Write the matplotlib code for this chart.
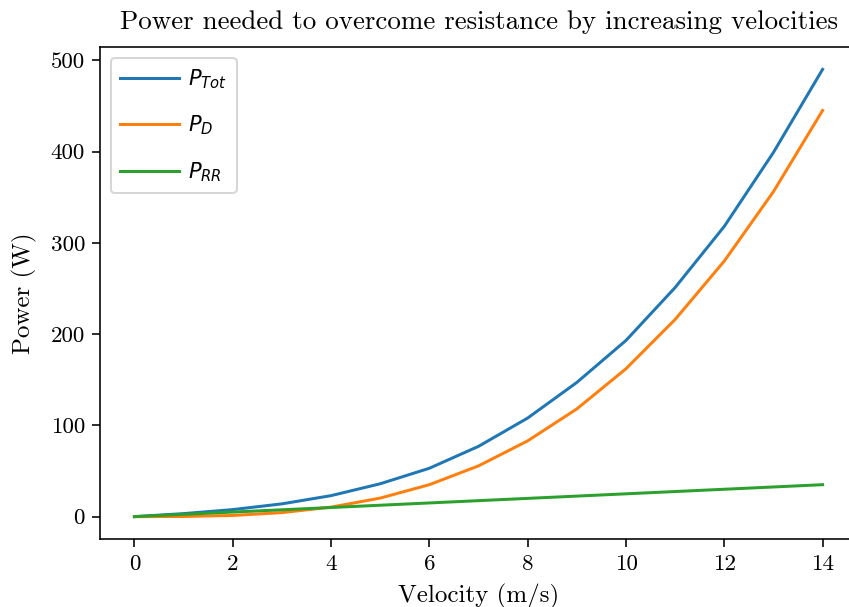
import matplotlib
matplotlib.use("Agg")
import matplotlib.pyplot as plt

plt.rcParams["font.family"] = "serif"
plt.rcParams["font.serif"] = ["cmr10", "DejaVu Serif"]
plt.rcParams["mathtext.fontset"] = "dejavusans"

velocity = [0, 1, 2, 3, 4, 5, 6, 7, 8, 9, 10, 11, 12, 13, 14]
p_tot = [0, 3.3, 7.7, 14, 23, 36, 53, 77, 108, 147, 193, 251, 318, 399, 490]
p_d = [0, 0.16, 1.3, 4.4, 10.4, 20.3, 35, 55.6, 83, 118, 162, 216, 280, 356, 445]
p_rr = [0, 2.5, 5, 7.5, 10, 12.5, 15, 17.5, 20, 22.5, 25, 27.5, 30, 32.5, 35]

fig = plt.figure(figsize=(849 / 144, 607 / 144), dpi=144)
# right spine falls just outside the picture, as in the cropped original
ax = fig.add_axes([100 / 849, 1 - 539 / 607, 757 / 849, 492 / 607])

ax.plot(velocity, p_tot, label="$P_{Tot}$")
ax.plot(velocity, p_d, label="$P_{D}$")
ax.plot(velocity, p_rr, label="$P_{RR}$")

ax.set_title("Power needed to overcome resistance by increasing velocities",
             fontsize=13.5, pad=9)
ax.set_xlabel("Velocity (m/s)", fontsize=12.5, labelpad=5)
ax.set_ylabel("Power (W)", fontsize=12.5, labelpad=7)
ax.tick_params(labelsize=11.5, length=4, pad=3.5)
ax.legend(loc="upper left", fontsize=10.5, handlelength=2.8,
          labelspacing=1.1, borderpad=0.45, handletextpad=0.45)

fig.savefig("out.png", dpi=144)
